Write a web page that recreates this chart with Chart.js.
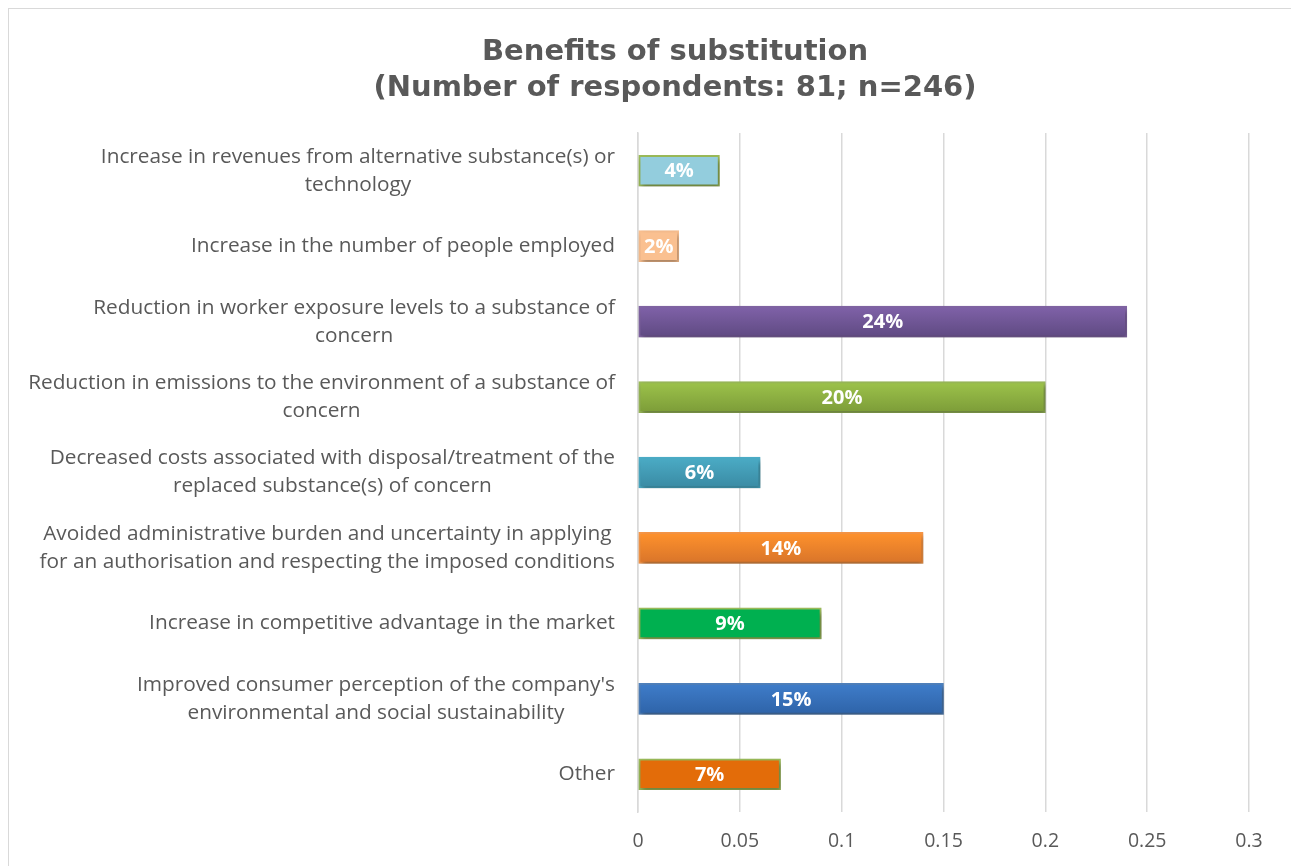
<!DOCTYPE html>
<html>
<head>
<meta charset="utf-8">
<script src="https://cdn.jsdelivr.net/npm/chart.js@4/dist/chart.umd.min.js"></script>
<style>
  html, body { margin: 0; padding: 0; background: #fff; overflow: hidden; }
  #frame {
    position: absolute; left: 8px; top: 8px; width: 1300px; height: 880px;
    border-left: 1px solid #d9d9d9; border-top: 1px solid #d9d9d9;
  }
  #chart { position: absolute; left: 0; top: 0; }
</style>
</head>
<body>
<div id="frame"><canvas id="chart" width="1282" height="857"></canvas></div>
<script>
const categories = [
    ["Increase in revenues from alternative substance(s) or", "technology"],
    ["Increase in the number of people employed"],
    ["Reduction in worker exposure levels to a substance of", "concern"],
    ["Reduction in emissions to the environment of a substance of", "concern"],
    ["Decreased costs associated with disposal/treatment of the", "replaced substance(s) of concern"],
    ["Avoided administrative burden and uncertainty in applying", "for an authorisation and respecting the imposed conditions"],
    ["Increase in competitive advantage in the market"],
    ["Improved consumer perception of the company's", "environmental and social sustainability"],
    ["Other"]
];
const shares = [0.04, 0.02, 0.24, 0.20, 0.06, 0.14, 0.09, 0.15, 0.07];
const xTicks = [0, 0.05, 0.1, 0.15, 0.2, 0.25, 0.3];
const titleLines = ["Benefits of substitution", "(Number of respondents: 81; n=246)"];

// top / bottom of each bar's vertical gradient, plus outline
const topColors    = ["#93cddd", "#fac090", "#8062a9", "#9dc34b", "#4bacc6", "#ff922c", "#00b050", "#3f7dca", "#e36c09"];
const bottomColors = ["#93cddd", "#fac090", "#5f4a82", "#7c9c38", "#3a8aa3", "#d8742a", "#00b050", "#2e63a8", "#e36c09"];
const edgeColors   = ["#9bbb59", "#fac090", "#8064a2", "#9bbb59", "#4bacc6", "#f79646", "#9bbb59", "#4f81bd", "#9bbb59"];

const BAR_H = 31;
const TEXT = "#595959";
const FONT = "'Open Sans'";

function barFill(ctx) {
    const i = ctx.dataIndex;
    if (topColors[i] === bottomColors[i]) return topColors[i];
    const y = ctx.chart.scales.y;
    if (!y || y.top === undefined) return topColors[i];
    const cy = y.getPixelForValue(i);
    const g = ctx.chart.ctx.createLinearGradient(0, cy - BAR_H / 2, 0, cy + BAR_H / 2);
    g.addColorStop(0, topColors[i]);
    g.addColorStop(1, bottomColors[i]);
    return g;
}

const barShadow = {
    id: "barShadow",
    beforeDatasetDraw(chart) {
        const c = chart.ctx;
        c.save();
        c.shadowColor = "rgba(0,0,0,0.35)";
        c.shadowBlur = 5;
        c.shadowOffsetX = 2;
        c.shadowOffsetY = 3;
    },
    afterDatasetDraw(chart) {
        chart.ctx.restore();
    }
};

const barLabels = {
    id: "barLabels",
    afterDatasetsDraw(chart) {
        const c = chart.ctx;
        const meta = chart.getDatasetMeta(0);
        c.save();
        c.fillStyle = "#ffffff";
        c.font = "bold 20px " + FONT;
        c.textAlign = "center";
        c.textBaseline = "middle";
        meta.data.forEach((bar, i) => {
            const txt = Math.round(shares[i] * 100) + "%";
            c.fillText(txt, (bar.x + bar.base) / 2, bar.y + 1);
        });
        c.restore();
    }
};

// category names: block right-aligned against the axis, lines centred inside it
const categoryText = {
    id: "categoryText",
    afterDraw(chart) {
        const c = chart.ctx;
        const y = chart.scales.y;
        const right = chart.chartArea.left - 23;
        const lh = 28;
        c.save();
        c.fillStyle = TEXT;
        c.font = "20.8px " + FONT;
        c.textAlign = "center";
        c.textBaseline = "middle";
        categories.forEach((lines, i) => {
            const w = Math.max(...lines.map(s => c.measureText(s).width));
            const cx = right - w / 2;
            const cy = y.getPixelForValue(i);
            lines.forEach((s, k) => {
                c.fillText(s, cx, cy + (k - (lines.length - 1) / 2) * lh);
            });
        });
        c.restore();
    }
};

const chartTitle = {
    id: "chartTitle",
    afterDraw(chart) {
        const c = chart.ctx;
        c.save();
        c.fillStyle = TEXT;
        c.font = "bold 29px 'DejaVu Sans'";
        c.textAlign = "center";
        c.textBaseline = "middle";
        titleLines.forEach((s, k) => c.fillText(s, 666, 43 + k * 36));
        c.restore();
    }
};

const ctx = document.getElementById("chart").getContext("2d");
const myChart = new Chart(ctx, {
    type: "bar",
    data: {
        labels: categories,
        datasets: [{
            data: shares,
            backgroundColor: barFill,
            borderColor: edgeColors,
            borderWidth: 2,
            borderSkipped: false,
            barThickness: BAR_H,
        }]
    },
    options: {
        indexAxis: "y",
        responsive: false,
        animation: false,
        layout: { padding: { left: 0, right: 42, top: 124, bottom: 0 } },
        plugins: {
            legend: { display: false },
            tooltip: { enabled: false },
            title: { display: false }
        },
        scales: {
            x: {
                min: 0,
                max: 0.3,
                afterBuildTicks(axis) {
                    axis.ticks = xTicks.map(v => ({ value: v }));
                },
                afterFit(axis) { axis.height = 54; },
                grid: { color: "#d9d9d9", lineWidth: 1.5, drawTicks: false },
                border: { display: false },
                ticks: {
                    color: TEXT,
                    font: { family: "Open Sans", size: 19.5 },
                    padding: 18,
                    callback: v => String(v)
                }
            },
            y: {
                afterFit(axis) { axis.width = 629; },
                grid: { display: false, drawTicks: false },
                border: { display: true, color: "#d9d9d9", width: 1.5 },
                ticks: { display: false }
            }
        }
    },
    plugins: [barShadow, barLabels, categoryText, chartTitle]
});
</script>
</body>
</html>
